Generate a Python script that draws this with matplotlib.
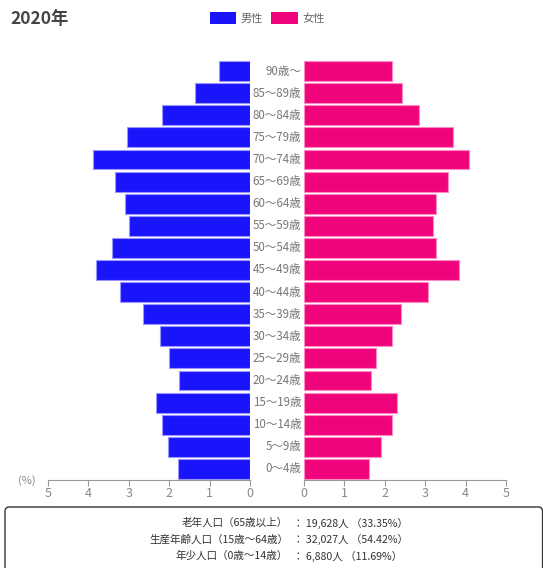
import matplotlib.pyplot as plt
from matplotlib.patches import Patch, FancyBboxPatch

plt.rcParams['font.family'] = ['Noto Sans CJK JP', 'DejaVu Sans']

# 年齢階級（上から）
ages = ['90歳～', '85～89歳', '80～84歳', '75～79歳', '70～74歳', '65～69歳',
        '60～64歳', '55～59歳', '50～54歳', '45～49歳', '40～44歳', '35～39歳',
        '30～34歳', '25～29歳', '20～24歳', '15～19歳', '10～14歳', '5～9歳', '0～4歳']
male = [0.77, 1.35, 2.19, 3.04, 3.88, 3.33, 3.10, 3.00, 3.42, 3.80,
        3.22, 2.64, 2.24, 2.01, 1.76, 2.32, 2.19, 2.04, 1.78]
female = [2.19, 2.43, 2.84, 3.70, 4.08, 3.56, 3.27, 3.20, 3.26, 3.83,
          3.06, 2.40, 2.19, 1.79, 1.67, 2.29, 2.17, 1.91, 1.61]
ticks = [0, 1, 2, 3, 4, 5]

summary_labels = ['老年人口（65歳以上）', '生産年齢人口（15歳～64歳）', '年少人口（0歳～14歳）']
summary_counts = ['19,628人', '32,027人', '6,880人']
summary_pcts = ['33.35%', '54.42%', '11.69%']

BLUE = '#1a14fa'
PINK = '#f0047c'
W, H = 543, 568

fig = plt.figure(figsize=(W / 100, H / 100), dpi=100)

bottom = 1 - 480 / H
height = (480 - 60) / H
ax_m = fig.add_axes([48 / W, bottom, (250 - 48) / W, height])
ax_f = fig.add_axes([304 / W, bottom, (506 - 304) / W, height])

pos = list(range(len(ages)))[::-1]
ax_m.barh(pos, male, height=0.9, color=BLUE, edgecolor='#9a98ff', linewidth=0.8)
ax_f.barh(pos, female, height=0.9, color=PINK, edgecolor='#f98cc4', linewidth=0.8)

for ax in (ax_m, ax_f):
    ax.set_ylim(-0.5, len(ages) - 0.5)
    ax.set_yticks([])
    for s in ('top', 'left', 'right'):
        ax.spines[s].set_visible(False)
    ax.spines['bottom'].set_color('#999999')
    ax.spines['bottom'].set_linewidth(0.8)
    ax.set_xticks(ticks)
    ax.tick_params(axis='x', colors='#999999', labelcolor='#888888',
                   labelsize=9, length=4, width=0.8, pad=1)
ax_m.set_xlim(5, 0)
ax_f.set_xlim(0, 5)

# 中央の年齢ラベル
for p, a in zip(pos, ages):
    ax_f.text(-0.07, p, a, ha='right', va='center', fontsize=8.3,
              color='#777777', clip_on=False)

fig.text(27 / W, 1 - 481 / H, '(%)', ha='center', va='center',
         fontsize=8, color='#888888')

fig.text(10 / W, 1 - 19 / H, '2020年', ha='left', va='center',
         fontsize=12.5, fontweight='bold', color='#444444')

handles = [Patch(facecolor=BLUE, label='男性'), Patch(facecolor=PINK, label='女性')]
fig.legend(handles=handles, loc='center', bbox_to_anchor=(267 / W, 1 - 18 / H),
           ncol=2, frameon=False, fontsize=8, handlelength=2.4, handleheight=1.3,
           handletextpad=0.4, columnspacing=0.7, labelcolor='#666666')

# 年齢3区分の集計ボックス
box = FancyBboxPatch((5 / W, -0.05), 0.99, 1 - 507 / H + 0.05,
                     boxstyle='round,pad=0,rounding_size=0.008',
                     transform=fig.transFigure, facecolor='white',
                     edgecolor='#333333', linewidth=1.0, clip_on=False)
fig.patches.append(box)

for i, (lab, cnt, pct) in enumerate(zip(summary_labels, summary_counts, summary_pcts)):
    y = 1 - (523 + i * 16.5) / H
    fig.text(288 / W, y, lab, ha='right', va='center', fontsize=7.6, color='#333333')
    fig.text(293 / W, y, f'： {cnt} （{pct}）', ha='left', va='center',
             fontsize=7.6, color='#333333')

fig.savefig('out.png', dpi=100)
